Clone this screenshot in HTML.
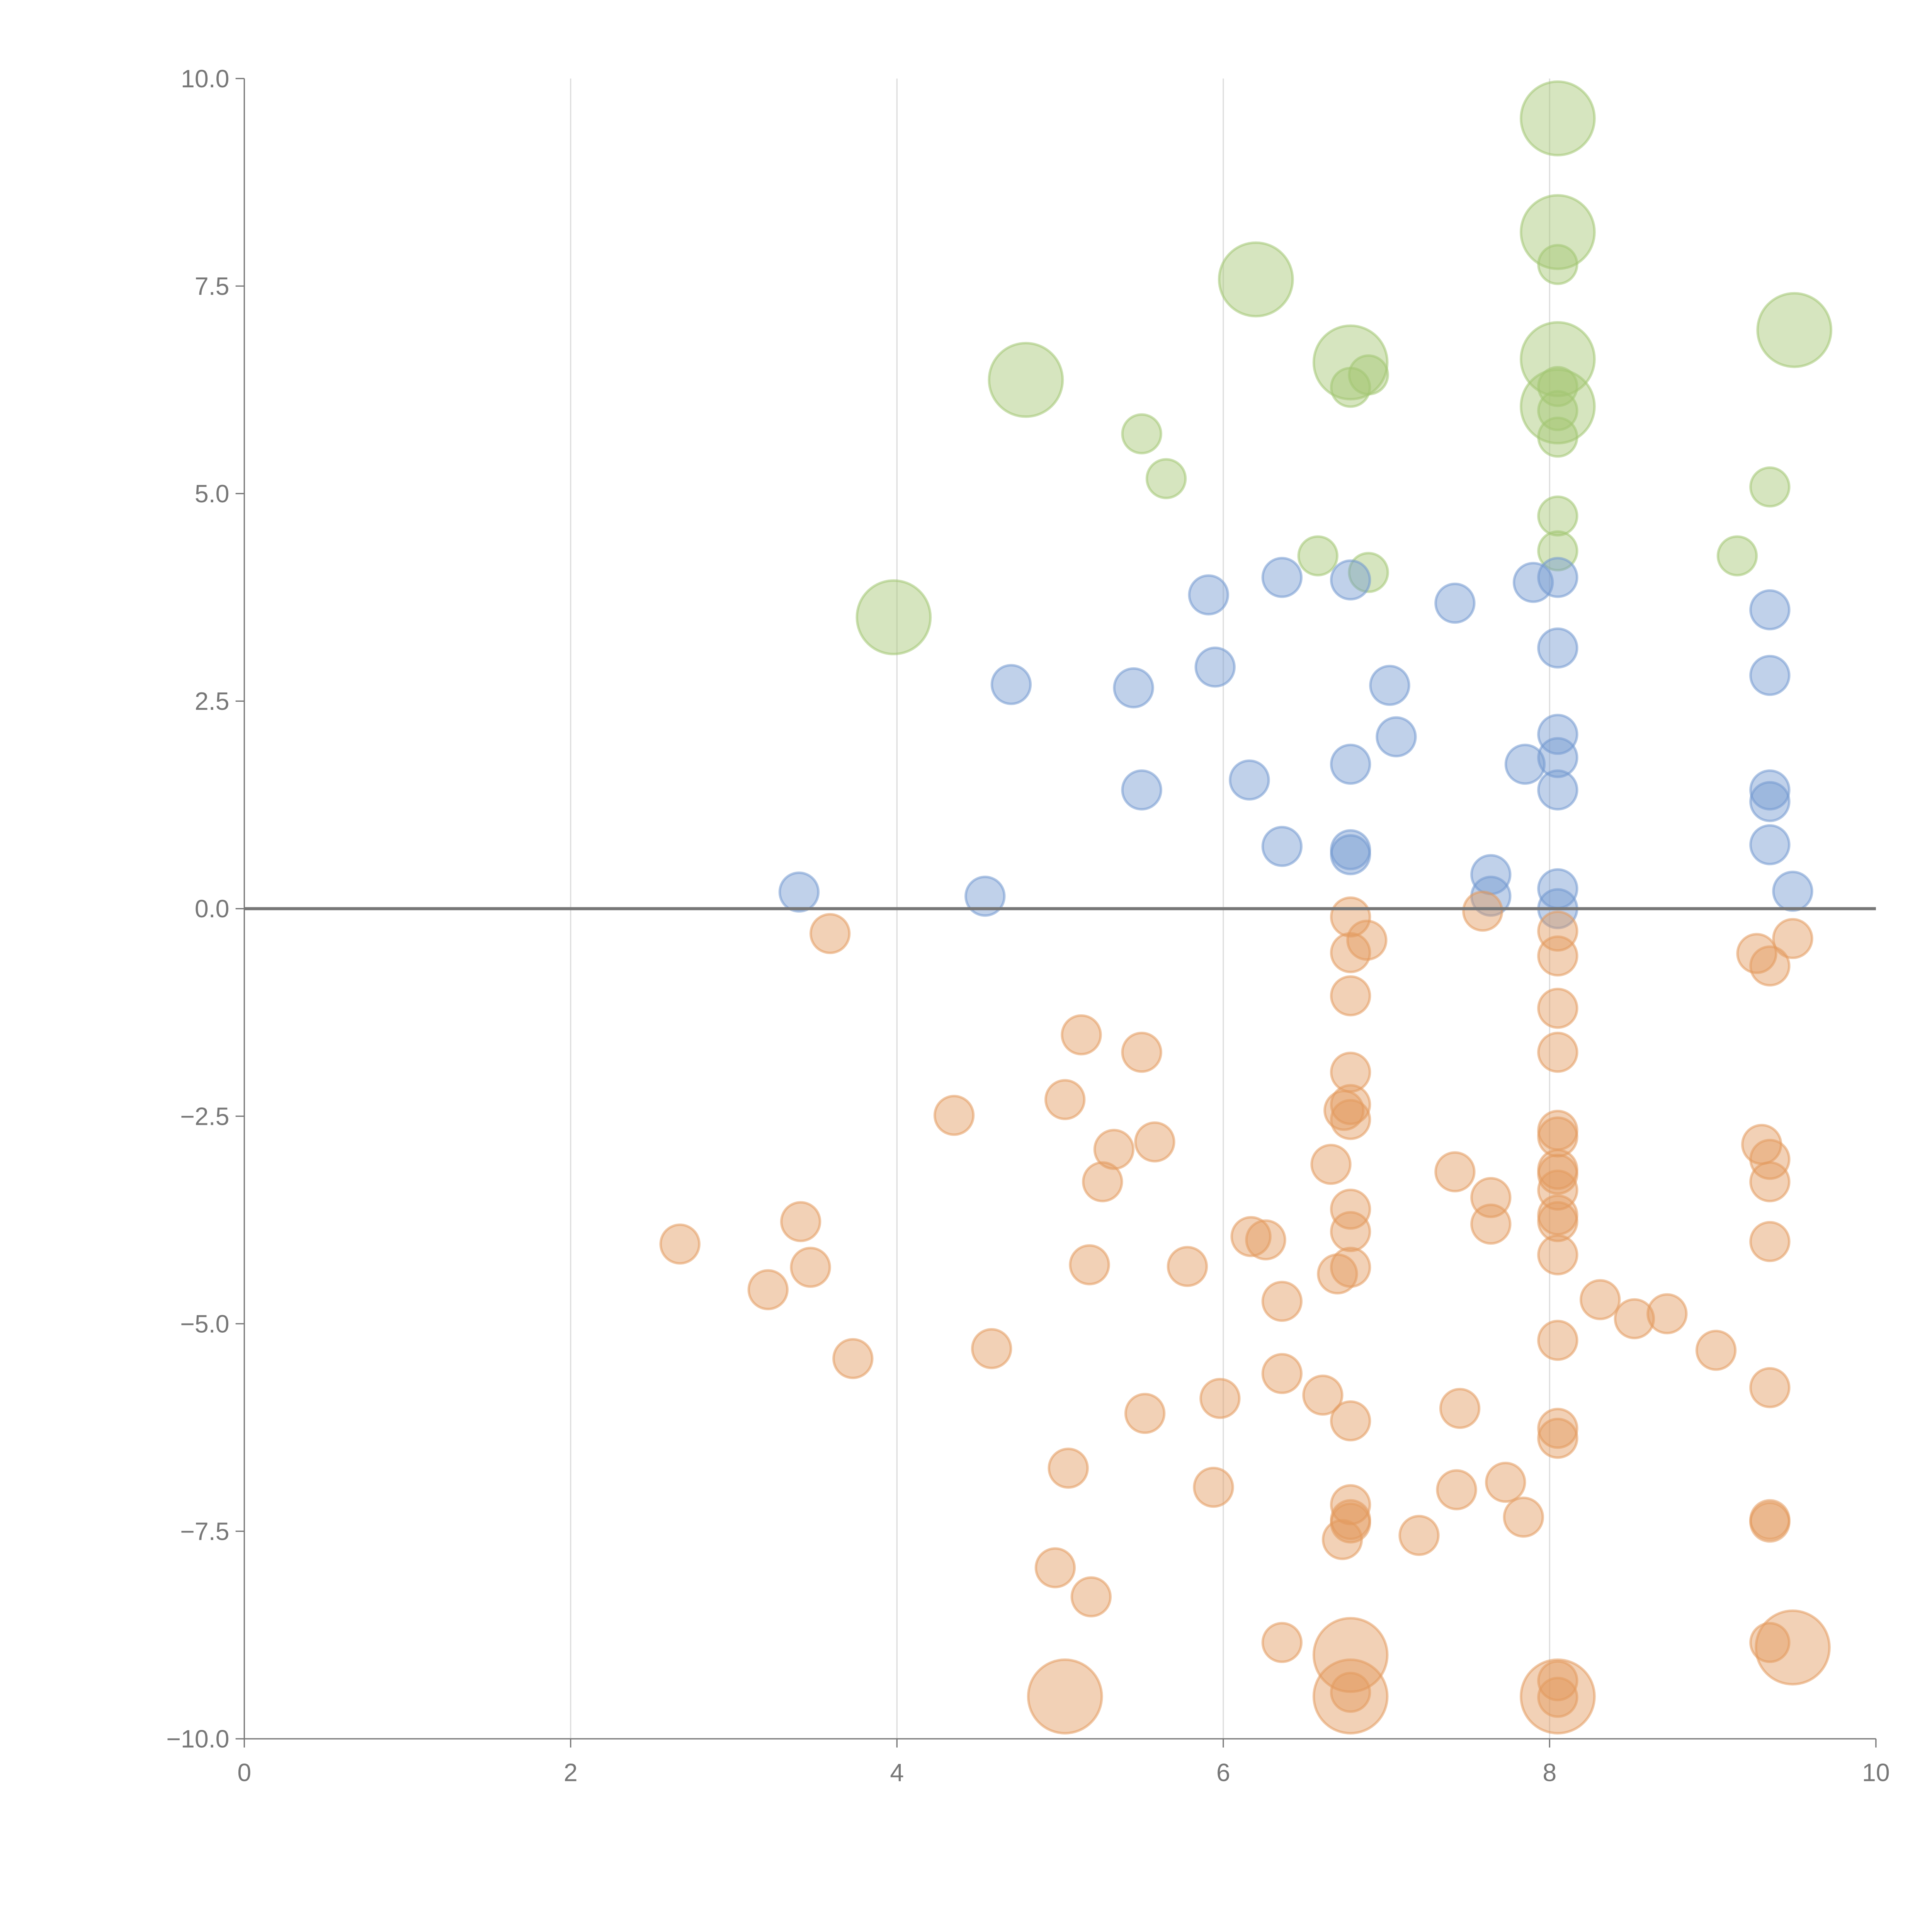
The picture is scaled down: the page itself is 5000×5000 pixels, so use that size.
<!DOCTYPE html>
<html><head><meta charset="utf-8"><style>
html,body{margin:0;padding:0;background:#fff;}
svg{display:block;}
text{font-family:"Liberation Sans",sans-serif;fill:#777;font-size:20px;}
</style></head><body>
<svg id="chart" width="5000" height="5000" viewBox="0 0 1550 1550" xmlns="http://www.w3.org/2000/svg">
<g id="grid"></g>
<g id="marks"></g>
<g id="axes"></g>
</svg>
<script>
const xTicks=[0,2,4,6,8,10];
const yTicks=[-10,-7.5,-5,-2.5,0,2.5,5,7.5,10];
const greenX=[8.05,8.05,8.05,6.2,9.5,4.79,6.78,6.78,6.89,8.05,8.05,8.05,8.05,8.05,5.5,5.65,9.35,8.05,8.05,6.58,6.89,9.15,3.98];
const greenY=[9.52,8.15,7.76,7.58,6.97,6.37,6.58,6.28,6.43,6.62,6.05,6.29,6.0,5.68,5.72,5.18,5.08,4.73,4.31,4.25,4.05,4.25,3.51];
const greenBig=[1,1,0,1,1,1,1,0,0,1,1,0,0,0,0,0,0,0,0,0,0,0,1];
const blueX=[6.36,6.78,5.91,7.42,7.9,8.05,9.35,8.05,5.95,9.35,4.7,5.45,7.02,7.06,8.05,8.05,7.85,6.78,6.16,5.5,8.05,9.35,9.35,9.35,6.36,6.78,6.78,7.64,7.64,8.05,8.05,9.49,3.4,4.54];
const blueY=[3.99,3.96,3.78,3.68,3.93,3.99,3.6,3.14,2.91,2.81,2.70,2.66,2.69,2.07,2.1,1.82,1.74,1.74,1.55,1.43,1.43,1.43,1.29,0.77,0.75,0.71,0.65,0.41,0.15,0.24,0.0,0.21,0.2,0.15];
const orangeX=[6.78,7.59,8.05,3.59,6.78,6.88,8.05,9.27,9.35,9.49,6.78,8.05,5.13,5.5,8.05,6.78,5.03,6.78,6.74,6.78,4.35,8.05,8.05,5.58,5.33,9.3,9.35,6.66,8.05,8.05,7.42,5.26,9.35,8.05,7.64,6.78,8.05,8.05,3.41,7.64,6.78,6.17,6.26,2.67,9.35,8.05,3.47,5.18,5.78,6.78,6.7,3.21,6.36,8.31,8.72,8.52,8.05,9.02,4.58,3.73,6.36,9.35,6.61,5.98,5.52,7.45,6.78,8.05,8.05,5.05,5.94,7.43,7.73,7.84,6.78,6.78,6.78,9.35,9.35,7.2,6.73,4.97,5.19,6.36,9.35,6.78,9.49,5.03,6.78,6.78,8.05,8.05,8.05];
const orangeY=[-0.1,-0.03,-0.27,-0.3,-0.53,-0.38,-0.57,-0.54,-0.69,-0.36,-1.05,-1.2,-1.52,-1.73,-1.73,-1.97,-2.3,-2.36,-2.43,-2.54,-2.49,-2.67,-2.75,-2.81,-2.9,-2.84,-3.02,-3.08,-3.14,-3.2,-3.17,-3.29,-3.29,-3.39,-3.48,-3.62,-3.69,-3.77,-3.77,-3.8,-3.89,-3.95,-3.99,-4.04,-4.01,-4.17,-4.32,-4.29,-4.31,-4.32,-4.4,-4.59,-4.73,-4.71,-4.88,-4.94,-5.2,-5.32,-5.3,-5.42,-5.6,-5.77,-5.86,-5.9,-6.08,-6.02,-6.17,-6.26,-6.38,-6.74,-6.97,-7.0,-6.91,-7.33,-7.18,-7.36,-7.4,-7.36,-7.39,-7.55,-7.6,-7.94,-8.29,-8.84,-8.84,-8.99,-8.9,-9.49,-9.49,-9.44,-9.49,-9.3,-9.5];
const orangeBig=[0,0,0,0,0,0,0,0,0,0,0,0,0,0,0,0,0,0,0,0,0,0,0,0,0,0,0,0,0,0,0,0,0,0,0,0,0,0,0,0,0,0,0,0,0,0,0,0,0,0,0,0,0,0,0,0,0,0,0,0,0,0,0,0,0,0,0,0,0,0,0,0,0,0,0,0,0,0,0,0,0,0,0,0,0,1,1,1,1,0,1,0,0];

const X0=196,X1=1505,Y0=1395,Y1=63;
const sx=v=>X0+(v-0)/(10-0)*(X1-X0);
const sy=v=>Y0-(v+10)/20*(Y0-Y1);
const NS="http://www.w3.org/2000/svg";
function mk(tag,attrs,parent){const e=document.createElementNS(NS,tag);for(const k in attrs)e.setAttribute(k,attrs[k]);parent.appendChild(e);return e;}
const grid=document.getElementById('grid'),marks=document.getElementById('marks'),axes=document.getElementById('axes');

xTicks.forEach(t=>{
  if(t>0&&t<10){const l=mk('line',{x1:sx(t),x2:sx(t),y1:Y1,y2:Y0,stroke:'#ddd','stroke-width':1},grid);
  
  }
  const tk=mk('line',{x1:sx(t),x2:sx(t),y1:Y0,y2:Y0+7,stroke:'#777','stroke-width':1},axes);
  
  
  const tx=mk('text',{x:sx(t),y:Y0+34,'text-anchor':'middle'},axes);tx.textContent=String(t);
  
  
});
yTicks.forEach(t=>{
  const tk=mk('line',{x1:X0-7,x2:X0,y1:sy(t),y2:sy(t),stroke:'#777','stroke-width':1},axes);
  
  
  const tx=mk('text',{x:X0-12,y:sy(t)+7,'text-anchor':'end'},axes);tx.textContent=(t<0?'\u2212':'')+Math.abs(t).toFixed(1);
  
  
});
const xa=mk('line',{x1:X0,x2:X1,y1:Y0,y2:Y0,stroke:'#777','stroke-width':1},axes);


const ya=mk('line',{x1:X0,x2:X0,y1:Y1,y2:Y0,stroke:'#777','stroke-width':1},axes);


const zl=mk('line',{x1:X0,x2:X1,y1:sy(0),y2:sy(0),stroke:'#777','stroke-width':2.5},axes);



function series(xs,ys,big,color,name){
  xs.forEach((x,i)=>{
    const r=(big&&big[i])?29.5:15.5;
    const c=mk('circle',{cx:sx(x),cy:sy(ys[i]),r:r,fill:color,'fill-opacity':0.45,stroke:color,'stroke-opacity':0.55,'stroke-width':2},marks);
    
    
  });
}
series(greenX,greenY,greenBig,'#a3c672','green-bubble');
series(blueX,blueY,null,'#7399d0','blue-bubble');
series(orangeX,orangeY,orangeBig,'#e39a5e','orange-bubble');
</script>
</body></html>
